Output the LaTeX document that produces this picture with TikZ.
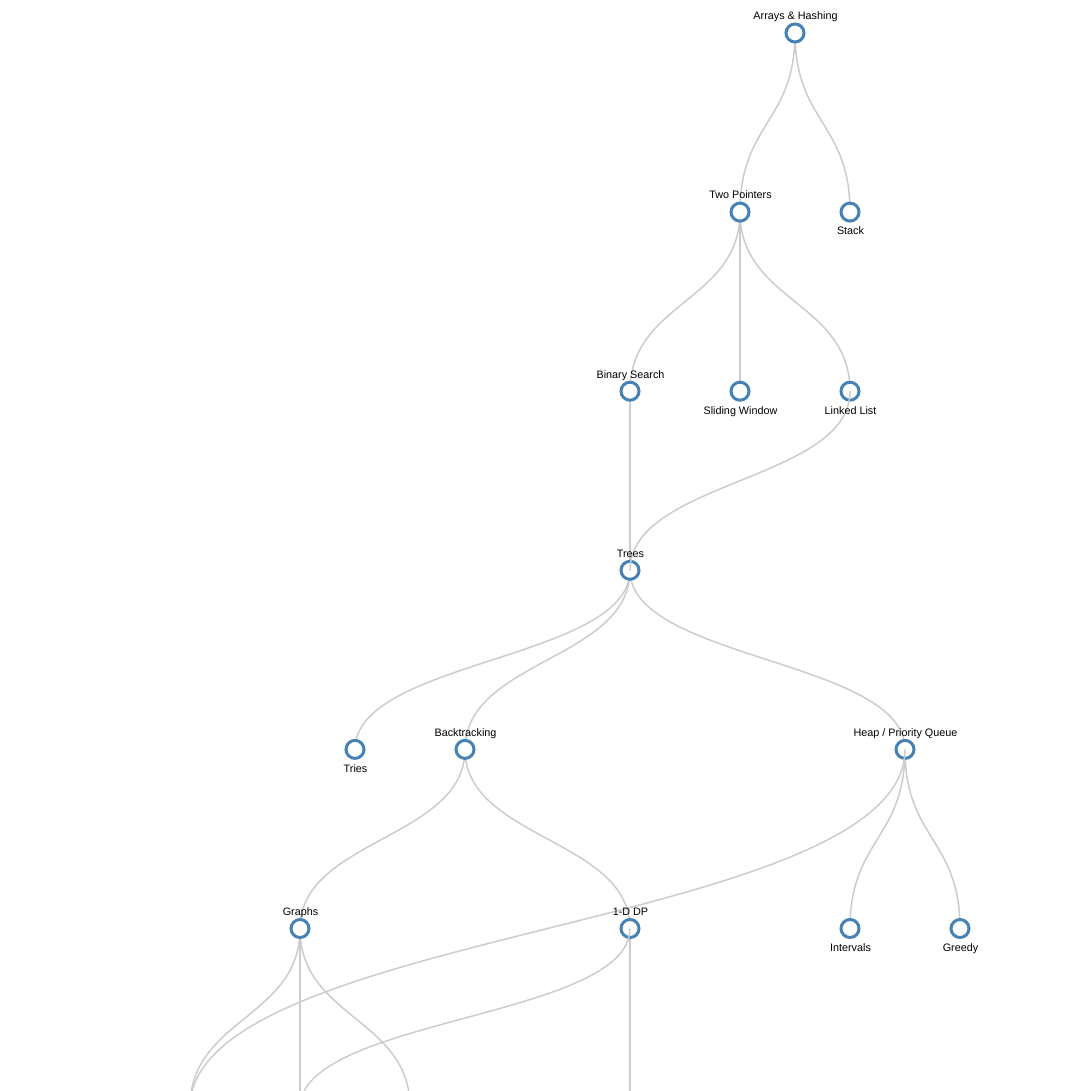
\documentclass[tikz,border=0pt]{standalone}
\usepackage{fontspec}
\setmainfont{Liberation Sans}
\usetikzlibrary{calc}
\definecolor{linkgray}{HTML}{CCCCCC}
\definecolor{steel}{HTML}{4682B4}
\pgfdeclarelayer{background}
\pgfdeclarelayer{foreground}
\pgfsetlayers{background,main,foreground}
\tikzset{
  link/.style={draw=linkgray, line width=1.5pt},
  topic/.style={circle, draw=steel, fill=white, line width=3pt, minimum size=18pt, inner sep=0pt},
  lbl/.style={anchor=base, inner sep=0pt, font=\fontsize{10.8}{12}\selectfont, text=black},
}
\newcommand{\lnk}[2]{%
  \path ($(#1.center)!0.5!(#2.center)$) coordinate (mid);
  \draw[link] (#1.center) .. controls (#1.center |- mid) and (#2.center |- mid) .. (#2.center);}
\begin{document}
\begin{tikzpicture}[x=1pt,y=-1pt]
\useasboundingbox (0,0) rectangle (1083,1091);
\clip (0,0) rectangle (1083,1091);
% off-picture children
\coordinate (c1) at (190,1107.6);
\coordinate (c2) at (300,1107.6);
\coordinate (c3) at (410,1107.6);
\coordinate (c4) at (630,1107.6);
% circles
\node[topic] (arr) at (795,33) {};
\node[topic] (tp)  at (740,212.1) {};
\node[topic] (stk) at (850,212.1) {};
\node[topic] (bs)  at (630,391.2) {};
\node[topic] (sw)  at (740,391.2) {};
\node[topic] (ll)  at (850,391.2) {};
\node[topic] (tr)  at (630,570.3) {};
\node[topic] (tri) at (355,749.4) {};
\node[topic] (bt)  at (465,749.4) {};
\node[topic] (hp)  at (905,749.4) {};
\node[topic] (gr)  at (300,928.5) {};
\node[topic] (dp)  at (630,928.5) {};
\node[topic] (iv)  at (850,928.5) {};
\node[topic] (gd)  at (960,928.5) {};
% tree links under circles
\begin{pgfonlayer}{background}
\lnk{arr}{tp}
\lnk{arr}{stk}
\lnk{tp}{bs}
\lnk{tp}{sw}
\lnk{tp}{ll}
\lnk{bs}{tr}
\lnk{tr}{tri}
\lnk{tr}{bt}
\lnk{tr}{hp}
\lnk{bt}{gr}
\lnk{bt}{dp}
\lnk{hp}{iv}
\lnk{hp}{gd}
\lnk{gr}{c1}
\lnk{gr}{c2}
\lnk{gr}{c3}
\lnk{dp}{c4}
\end{pgfonlayer}
% extra links over circles, and labels
\begin{pgfonlayer}{foreground}
\lnk{ll}{tr}
\lnk{hp}{c1}
\lnk{dp}{c2}
\node[lbl] (arr-l) at ($(arr)+(0.5,-13.2)$) {Arrays \& Hashing};
\node[lbl] (tp-l)  at ($(tp)+(0.5,-13.2)$) {Two Pointers};
\node[lbl] (stk-l) at ($(stk)+(0.5,22.8)$) {Stack};
\node[lbl] (bs-l)  at ($(bs)+(0.5,-13.2)$) {Binary Search};
\node[lbl] (sw-l)  at ($(sw)+(0.5,22.8)$) {Sliding Window};
\node[lbl] (ll-l)  at ($(ll)+(0.5,22.8)$) {Linked List};
\node[lbl] (tr-l)  at ($(tr)+(0.5,-13.2)$) {Trees};
\node[lbl] (tri-l) at ($(tri)+(0.5,22.8)$) {Tries};
\node[lbl] (bt-l)  at ($(bt)+(0.5,-13.2)$) {Backtracking};
\node[lbl] (hp-l)  at ($(hp)+(0.5,-13.2)$) {Heap / Priority Queue};
\node[lbl] (gr-l)  at ($(gr)+(0.5,-13.2)$) {Graphs};
\node[lbl] (dp-l)  at ($(dp)+(0.5,-13.2)$) {1-D DP};
\node[lbl] (iv-l)  at ($(iv)+(0.5,22.8)$) {Intervals};
\node[lbl] (gd-l)  at ($(gd)+(0.5,22.8)$) {Greedy};
\end{pgfonlayer}
\end{tikzpicture}
\end{document}
